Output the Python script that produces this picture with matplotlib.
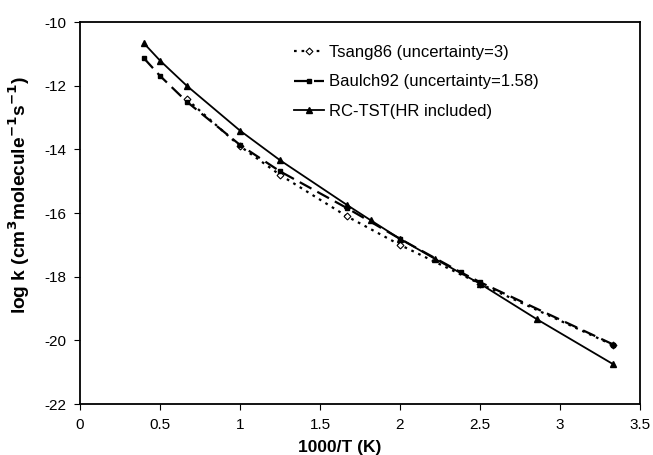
import matplotlib
matplotlib.use("Agg")
import matplotlib.pyplot as plt

plt.rcParams.update({
    "font.family": ["Liberation Sans", "DejaVu Sans"],
    "font.size": 11,
    "axes.unicode_minus": False,
})

# 1000/T values and log k
tsang_x = [0.667, 1.0, 1.25, 1.667, 2.0, 2.5, 3.333]
tsang_y = [-12.42, -13.9, -14.8, -16.1, -17.0, -18.22, -20.15]

baulch_x = [0.4, 0.5, 0.667, 1.0, 1.25, 1.667, 2.0, 2.38, 2.5, 3.333]
baulch_y = [-11.14, -11.69, -12.5, -13.86, -14.69, -15.84, -16.81, -17.86, -18.17, -20.13]

rc_x = [0.4, 0.5, 0.667, 1.0, 1.25, 1.667, 1.818, 2.0, 2.222, 2.5, 2.857, 3.333]
rc_y = [-10.67, -11.21, -12.0, -13.41, -14.34, -15.74, -16.23, -16.81, -17.45, -18.22, -19.34, -20.75]

fig = plt.figure(figsize=(6.53, 4.55), dpi=100)
ax = fig.add_axes([0.1225, 0.112, 0.8575, 0.8396])

ax.plot(tsang_x, tsang_y, ls=(0, (1.2, 2.2)), lw=1.6, color="black",
        marker="D", ms=3.5, mfc="white", mec="black", mew=0.8,
        label="Tsang86 (uncertainty=3)")
ax.plot(baulch_x, baulch_y, ls=(0, (6, 3)), lw=1.6, color="black",
        marker="s", ms=3.5, label="Baulch92 (uncertainty=1.58)")
ax.plot(rc_x, rc_y, ls="-", lw=1.3, color="black",
        marker="^", ms=4, label="RC-TST(HR included)")

ax.set_xlim(0, 3.5)
ax.set_ylim(-22, -10)
ax.set_xticks([0, 0.5, 1, 1.5, 2, 2.5, 3, 3.5])
ax.set_xticklabels(["0", "0.5", "1", "1.5", "2", "2.5", "3", "3.5"])
ax.set_yticks(range(-22, -9, 2))
ax.tick_params(direction="out", length=4, width=0.8, pad=6)
for s in ax.spines.values():
    s.set_linewidth(1.3)

ax.set_xlabel("1000/T (K)", fontsize=12.5, fontweight="bold")
ax.xaxis.set_label_coords(0.464, -0.095)
ax.set_ylabel(r"log k (cm$^\mathbf{3}$molecule$^\mathbf{-1}$s$^\mathbf{-1}$)",
              fontsize=13.8, fontweight="bold")
ax.yaxis.set_label_coords(-0.085, 0.547)

ax.legend(loc="upper left", bbox_to_anchor=(0.356, 0.98), frameon=False,
          fontsize=12, handlelength=1.8, labelspacing=0.89, handletextpad=0.3)

fig.savefig("out.png", dpi=100)
